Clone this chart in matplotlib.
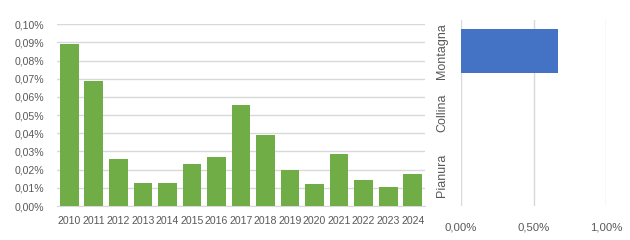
import matplotlib
matplotlib.use("Agg")
import matplotlib.pyplot as plt
from matplotlib.ticker import FuncFormatter, MultipleLocator

years = [str(y) for y in range(2010, 2025)]
values = [0.089, 0.069, 0.026, 0.0127, 0.0127, 0.023, 0.027, 0.0555, 0.039, 0.0198, 0.012, 0.0286, 0.0143, 0.0105, 0.0176]

zones = ["Pianura", "Collina", "Montagna"]
zone_values = [0.0, 0.0, 0.668]

plt.rcParams['font.family'] = ['Liberation Sans', 'DejaVu Sans']
txt = '#595959'
grid = '#d9d9d9'

fig = plt.figure(figsize=(6.3, 2.4), dpi=100)
fig.patch.set_facecolor('white')

ax = fig.add_axes([57/630, 34/240, 368/630, 181.7/240])
x = range(len(years))
ax.bar(x, values, width=0.76, color='#70ad47', zorder=3)
ax.set_xlim(-0.5, len(years) - 0.5)
ax.set_ylim(0, 0.1)
ax.yaxis.set_major_locator(MultipleLocator(0.01))
ax.yaxis.set_major_formatter(FuncFormatter(lambda v, p: f"{v:.2f}%".replace('.', ',')))
ax.set_xticks(list(x))
ax.set_xticklabels(years)
ax.grid(axis='y', color=grid, linewidth=1, zorder=0)
for s in ['top', 'right', 'left']:
    ax.spines[s].set_visible(False)
ax.spines['bottom'].set_color(grid)
ax.tick_params(axis='both', length=0, colors=txt, labelsize=7.6)
ax.tick_params(axis='x', pad=7.5)
ax.tick_params(axis='y', pad=9)

ax2 = fig.add_axes([460.7/630, 34/240, 145.6/630, 186/240])
yy = range(len(zones))
ax2.barh(yy, zone_values, height=0.72, color='#4472c4', zorder=3)
ax2.set_xlim(0, 1.0)
ax2.set_ylim(-0.5, len(zones) - 0.5)
ax2.xaxis.set_major_locator(MultipleLocator(0.5))
ax2.xaxis.set_major_formatter(FuncFormatter(lambda v, p: f"{v:.2f}%".replace('.', ',')))
ax2.set_yticks(list(yy))
ax2.set_yticklabels(zones, rotation=90, va='center')
ax2.grid(axis='x', color=grid, linewidth=1, zorder=0)
for s in ['top', 'right', 'left', 'bottom']:
    ax2.spines[s].set_visible(False)
ax2.tick_params(axis='both', length=0, colors=txt)
ax2.tick_params(axis='x', pad=12, labelsize=8.2)
ax2.tick_params(axis='y', pad=9, labelsize=9)

fig.savefig('out.png', dpi=100, facecolor='white')
